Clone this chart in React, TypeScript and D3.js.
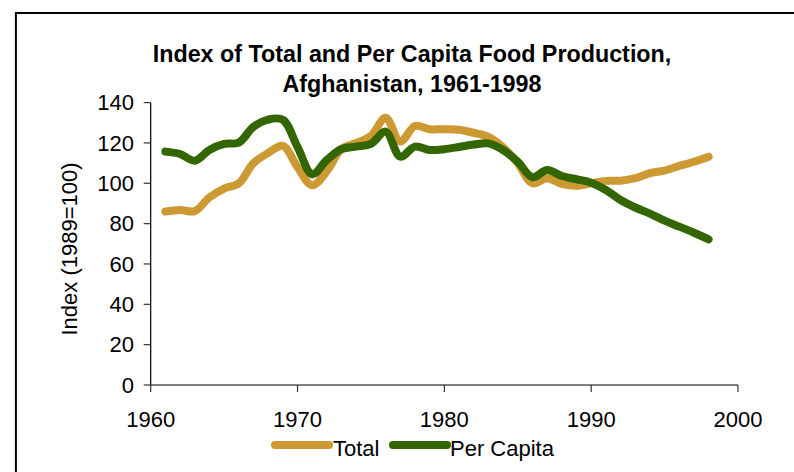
import React from "react";
import * as d3 from "d3";

const years = [
  1961, 1962, 1963, 1964, 1965, 1966, 1967, 1968, 1969, 1970,
  1971, 1972, 1973, 1974, 1975, 1976, 1977, 1978, 1979, 1980,
  1981, 1982, 1983, 1984, 1985, 1986, 1987, 1988, 1989, 1990,
  1991, 1992, 1993, 1994, 1995, 1996, 1997, 1998,
];
const totalValues = [
  86, 86.8, 86.2, 93, 97.4, 100, 110, 115, 118.5, 108,
  99, 106, 117, 120, 123.5, 132.5, 120.7, 128.4, 126.8, 126.8,
  126.5, 125, 123, 117.8, 110, 100, 102.5, 99.7, 98.8, 100,
  101.2, 101.3, 102.5, 105, 106.3, 108.6, 110.7, 113.2,
];
const perCapitaValues = [
  115.7, 114.5, 111.2, 116.5, 119.5, 120.2, 128, 131.6, 131.5, 118,
  104.5, 111.6, 117, 118.2, 119.5, 125.6, 113.2, 118.2, 116.5, 116.9,
  118, 119.2, 119.8, 116.5, 110.7, 103, 106.6, 103.6, 102, 100.3,
  96.7, 91.7, 88, 85, 81.5, 78.5, 75.5, 72.2,
];
const seriesNames = ["Total", "Per Capita"];
const seriesColors = ["#CC9933", "#336600"];
const xTicks = [1960, 1970, 1980, 1990, 2000];
const yTicks = [0, 20, 40, 60, 80, 100, 120, 140];
const titleLines = [
  "Index of Total and Per Capita Food Production,",
  "Afghanistan, 1961-1998",
];
const yAxisTitle = "Index (1989=100)";

export default function App() {
  const W = 794;
  const H = 472;
  const x = d3.scaleLinear().domain([1960, 2000]).range([150.7, 738]);
  const y = d3.scaleLinear().domain([0, 140]).range([385, 102.6]);
  const font = "'Liberation Sans', Arial, sans-serif";

  const line = d3
    .line<[number, number]>()
    .x((d) => x(d[0]))
    .y((d) => y(d[1]))
    .curve(d3.curveCatmullRom.alpha(0.5));

  const series = [totalValues, perCapitaValues].map((vals) =>
    years.map((yr, i) => [yr, vals[i]] as [number, number])
  );

  const legendItems = [
    { x1: 275, x2: 329, tx: 333 },
    { x1: 393, x2: 447, tx: 450 },
  ];

  return (
    <svg
      width={W}
      height={H}
      style={{ position: "absolute", left: 0, top: 0, display: "block", background: "#fff" }}
    >
      <rect x={0} y={0} width={W} height={H} fill="#fff" />
      <path d={`M15.9,${H + 2} V12.9 H${W + 2}`} fill="none" stroke="#000" strokeWidth={2} />

      {titleLines.map((t, i) => (
        <text
          key={i}
          x={412}
          y={61.5 + i * 30.5}
          textAnchor="middle"
          fontFamily={font}
          fontWeight="bold"
          fontSize={23.3}
          fill="#000"
        >
          {t}
        </text>
      ))}

      {/* y axis */}
      <line x1={x(1960)} x2={x(1960)} y1={y(140)} y2={y(0)} stroke="#000" strokeWidth={1.2} />
      {yTicks.map((t) => (
        <g key={t}>
          <line x1={x(1960) - 7} x2={x(1960)} y1={y(t)} y2={y(t)} stroke="#333" strokeWidth={1.2} />
          <text
            x={134}
            y={y(t)}
            dy="0.35em"
            textAnchor="end"
            fontFamily={font}
            fontSize={22}
            fill="#000"
          >
            {t}
          </text>
        </g>
      ))}

      {/* x axis */}
      <line x1={x(1960)} x2={x(2000)} y1={y(0)} y2={y(0)} stroke="#000" strokeWidth={1.2} />
      {xTicks.map((t) => (
        <g key={t}>
          <line x1={x(t)} x2={x(t)} y1={y(0)} y2={y(0) + 7} stroke="#333" strokeWidth={1.2} />
          <text
            x={x(t)}
            y={427}
            textAnchor="middle"
            fontFamily={font}
            fontSize={22}
            fill="#000"
          >
            {t}
          </text>
        </g>
      ))}

      <text
        transform={`translate(77,249) rotate(-90)`}
        textAnchor="middle"
        fontFamily={font}
        fontSize={22}
        fill="#000"
      >
        {yAxisTitle}
      </text>

      {series.map((s, i) => (
        <path
          key={i}
          d={line(s) || ""}
          fill="none"
          stroke={seriesColors[i]}
          strokeWidth={8}
          strokeLinecap="round"
          strokeLinejoin="round"
        />
      ))}

      {seriesNames.map((n, i) => (
        <g key={n}>
          <line
            x1={legendItems[i].x1}
            x2={legendItems[i].x2}
            y1={445}
            y2={445}
            stroke={seriesColors[i]}
            strokeWidth={8}
            strokeLinecap="round"
          />
          <text x={legendItems[i].tx} y={456} fontFamily={font} fontSize={22} fill="#000">
            {n}
          </text>
        </g>
      ))}
    </svg>
  );
}
